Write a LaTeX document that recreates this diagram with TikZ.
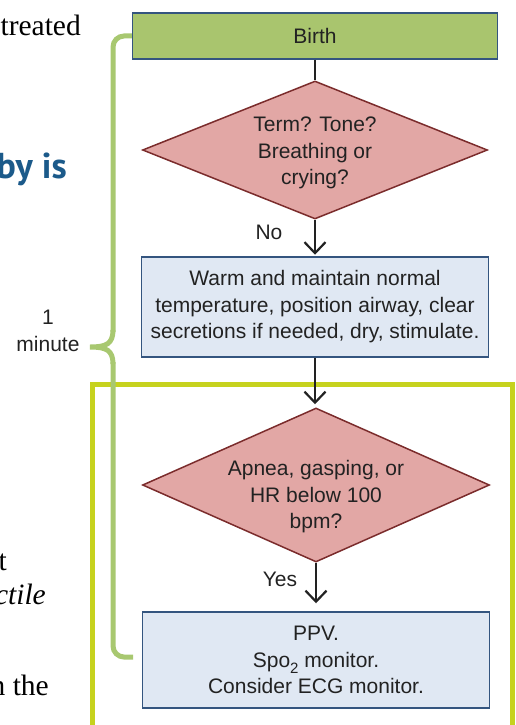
\documentclass[tikz,border=0pt]{standalone}
\usepackage{fontspec}
\setmainfont{Liberation Sans}
\newfontfamily\pageserif{Liberation Serif}
\newfontfamily\pagehead{PT Sans}
\usetikzlibrary{shapes.geometric,arrows.meta}
\definecolor{birthfill}{HTML}{A9C56E}
\definecolor{boxedge}{HTML}{34557F}
\definecolor{diafill}{HTML}{E2A7A5}
\definecolor{diaedge}{HTML}{7B2C2C}
\definecolor{boxfill}{HTML}{E0E8F3}
\definecolor{ygreen}{HTML}{C6D21E}
\definecolor{brgreen}{HTML}{A8C870}
\definecolor{inktext}{HTML}{222222}
\definecolor{headblue}{HTML}{1B5A8A}
\begin{document}
\begin{tikzpicture}[x=1pt,y=-1pt,
  flowtext/.style={text=inktext,font=\fontsize{21}{26.5}\selectfont,align=center},
  birthbox/.style={draw=boxedge,line width=1.5pt,fill=birthfill,rectangle,inner sep=0pt,flowtext},
  actbox/.style={draw=boxedge,line width=1.5pt,fill=boxfill,rectangle,inner sep=0pt,flowtext},
  decbox/.style={draw=diaedge,line width=1.5pt,fill=diafill,diamond,inner sep=0pt,aspect=2.5},
  conn/.style={draw=inktext,line width=2.2pt},
  arrowconn/.style={conn,-{Straight Barb[length=11pt,width=21pt,line width=2.2pt]}},
  bracket/.style={draw=brgreen,line width=5pt},
  pagetext/.style={text=black,font=\pageserif\fontsize{29.5}{31}\selectfont,inner sep=0pt},
  headtext/.style={text=headblue,font=\pagehead\bfseries\fontsize{36}{38}\selectfont,inner sep=0pt}
]
\useasboundingbox (0,0) rectangle (515,725);
\clip (0,0) rectangle (515,725);

% page fragments on the left
\node[pagetext,anchor=base east] (ptreated) at (81,36) {treated};
\node[headtext,anchor=base east] (pbyis) at (67,178) {by is};
\node[pagetext,anchor=base east] (pt) at (7,570) {t};
\node[pagetext,anchor=base east] (pctile) at (46,604) {\itshape ctile};
\node[pagetext,anchor=base east] (pnthe) at (49,695) {n the};

% yellow-green frame
\draw[ygreen,line width=5pt] (92,384) rectangle (512,760);

% flow nodes
\node[birthbox,minimum width=365pt,minimum height=46pt] (birth) at (315,36) {Birth};
\node[decbox,minimum width=345pt,minimum height=138pt] (d1) at (315,150) {};
\node[flowtext] (d1t) at (315,153) {Term? Tone?\\Breathing or\\crying?};
\node[actbox,minimum width=347pt,minimum height=100pt] (box2) at (315,307)
  {Warm and maintain normal\\temperature, position airway, clear\\secretions if needed, dry, stimulate.};
\node[decbox,minimum width=347pt,minimum height=154pt] (d2) at (316,485) {};
\node[flowtext] (d2t) at (316,497) {Apnea, gasping, or\\HR below 100\\bpm?};
\node[actbox,minimum width=347pt,minimum height=96pt] (box3) at (316,660)
  {PPV.\\Sp{o}\raisebox{-0.28em}{\fontsize{15}{15}\selectfont 2} monitor.\\Consider ECG monitor.};

% bracket
\coordinate (btip) at (90,347);
\coordinate (bend) at (133,657);
\draw[bracket,rounded corners=11pt] (birth.west) -- (113,36) -- (113,332);
\draw[bracket] (113,330) .. controls (113,344) and (106,347) .. (btip)
  .. controls (106,347) and (113,350) .. (113,364);
\draw[bracket,rounded corners=11pt] (113,362) -- (113,657) -- (bend);
\node[flowtext] (minute) at (48,331) {1\\minute};

% connectors
\draw[conn] (birth.south) -- (birth.south |- d1.north);
\draw[arrowconn,shorten >=1.5pt] (d1.south) -- (d1.south |- box2.north);
\draw[arrowconn,shorten >=3pt] (box2.south) -- (box2.south |- d2.north);
\draw[arrowconn,shorten >=8pt] (d2.south) -- (d2.south |- box3.north);
\node[flowtext] (no) at (269,232) {No};
\node[flowtext] (yes) at (280,579) {Yes};
\end{tikzpicture}
\end{document}
